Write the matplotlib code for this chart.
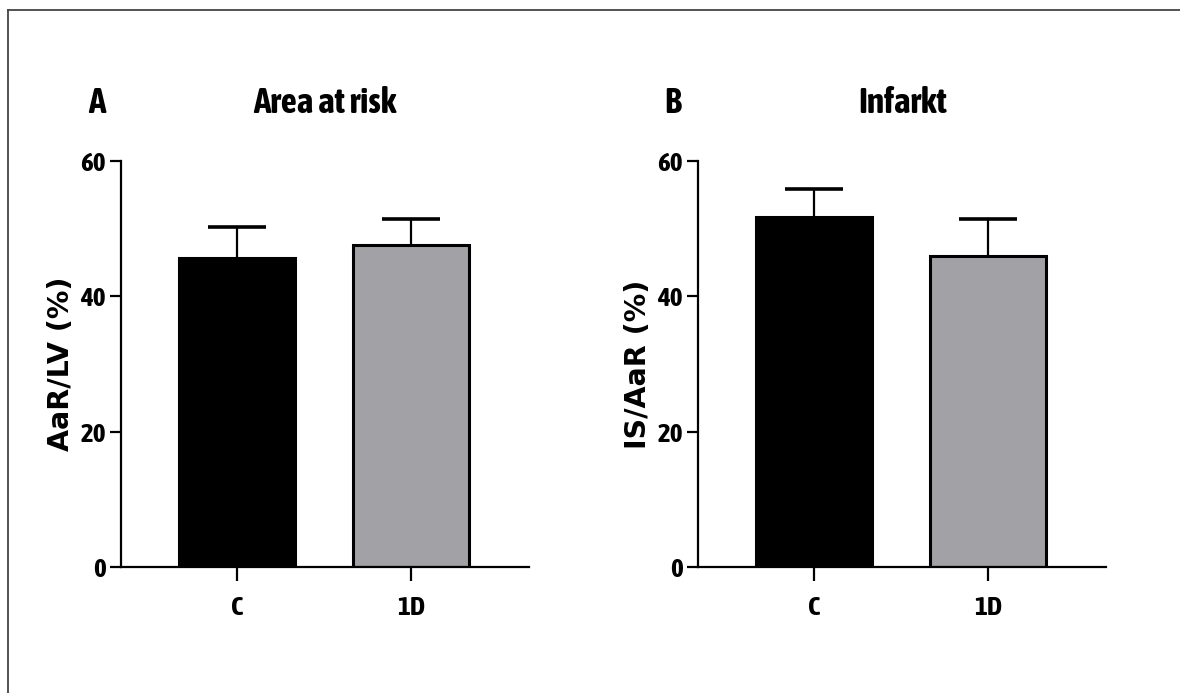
import matplotlib
matplotlib.use('Agg')
import matplotlib.pyplot as plt
from matplotlib import font_manager
from matplotlib.lines import Line2D

groups = ['C', '1D']
aar_mean = [45.7, 47.6]
aar_err = [4.6, 3.8]
is_mean = [51.7, 45.9]
is_err = [4.2, 5.5]
bar_colors = ['#000000', '#a2a1a6']


def _weight(w):
    if isinstance(w, str):
        return {'bold': 700, 'heavy': 800, 'black': 900}.get(w, 400)
    return w


# look for an upright condensed face with a bold cut, else Liberation Sans
bold_narrow = sorted({f.name for f in font_manager.fontManager.ttflist
                      if ('Narrow' in f.name or 'Condensed' in f.name
                          or f.stretch in ('condensed', 'semi-condensed'))
                      and f.style == 'normal'
                      and _weight(f.weight) >= 600})
NARROW = bold_narrow[:1] + ['Liberation Sans', 'DejaVu Sans']

BAR_W = 0.665


def draw_panel(ax, means, errs, ylabel):
    x = list(range(len(groups)))
    tops = [m + e for m, e in zip(means, errs)]
    ax.bar(x, means, width=BAR_W, color=bar_colors, edgecolor='black',
           linewidth=2.2, zorder=2)
    ax.vlines(x, means, tops, color='black', linewidth=1.6, zorder=3)
    ax.hlines(tops, [i - BAR_W / 4 for i in x], [i + BAR_W / 4 for i in x],
              color='black', linewidth=2.6, zorder=3)
    ax.set_xlim(-0.665, 1.677)
    ax.set_ylim(0, 60)
    ax.set_yticks([0, 20, 40, 60])
    ax.set_xticks(x)
    ax.set_xticklabels(groups)
    for s in ['top', 'right']:
        ax.spines[s].set_visible(False)
    for s in ['left', 'bottom']:
        ax.spines[s].set_linewidth(1.6)
    ax.tick_params(axis='y', length=8, width=1.6, pad=3)
    ax.tick_params(axis='x', length=10, width=1.6, pad=10)
    for lab in ax.get_xticklabels() + ax.get_yticklabels():
        lab.set_family(NARROW)
        lab.set_fontweight('bold')
        lab.set_fontstyle('normal')
        lab.set_fontsize(19.5)
    ax.set_ylabel(ylabel, family='DejaVu Sans', fontweight='bold',
                  fontsize=20.5)
    ax.yaxis.set_label_coords(-0.113, 0.5)


fig = plt.figure(figsize=(11.8, 6.93), dpi=100)
W, H = 1180, 693
ax1 = fig.add_axes([121 / W, (H - 567) / H, 408 / W, 406 / H])
ax2 = fig.add_axes([698 / W, (H - 567) / H, 408 / W, 406 / H])

draw_panel(ax1, aar_mean, aar_err, 'AaR/LV (%)')
draw_panel(ax2, is_mean, is_err, 'IS/AaR (%)')

title_kw = dict(family=NARROW, fontweight='bold', fontstyle='normal',
                fontsize=25.5, ha='center', va='center')
fig.text(97 / W, 1 - 103 / H, 'A', **title_kw)
fig.text(325 / W, 1 - 103 / H, 'Area at risk', **title_kw)
fig.text(673 / W, 1 - 103 / H, 'B', **title_kw)
fig.text(903 / W, 1 - 103 / H, 'Infarkt', **title_kw)

# partial frame around the figure (top and left edges only)
fig.add_artist(Line2D([8 / W, 8 / W], [0, 1 - 10 / H], color='#444444', lw=1.3))
fig.add_artist(Line2D([8 / W, 1], [1 - 10 / H, 1 - 10 / H], color='#444444', lw=1.3))

fig.savefig('out.png', dpi=100, facecolor='white')
